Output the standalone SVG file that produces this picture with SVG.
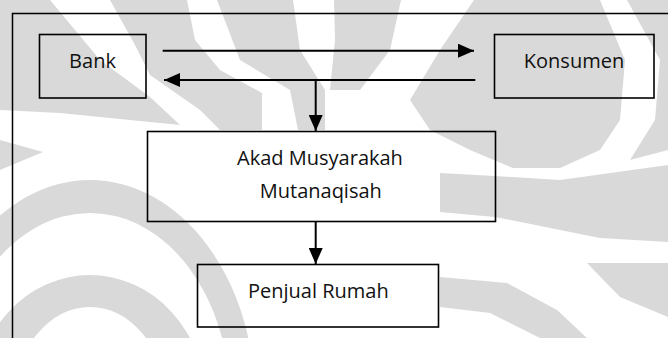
<svg xmlns="http://www.w3.org/2000/svg" width="668" height="338" viewBox="0 0 668 338">
<style>
.wm{fill:#d9d9d9;stroke:none}
.box{fill:none;stroke:#000;stroke-width:1.6}
.lbl{font-family:"Open Sans","Liberation Sans",sans-serif;font-size:20px;fill:#111;text-anchor:middle}
.con{stroke:#000;stroke-width:2;fill:none}
</style>
<defs>
<marker id="ah" markerUnits="userSpaceOnUse" markerWidth="16" markerHeight="14" refX="16" refY="7" orient="auto">
<path d="M0,0 L16,7 L0,14 z" fill="#000"/>
</marker>
</defs>
<rect width="668" height="338" fill="#fff"/>
<g id="watermark">
<polygon class="wm" points="0,0 50,0 100,60 150,97 180,125 130,120 60,113 0,110"/>
<polygon class="wm" points="0,140 43,152 0,170"/>
<polygon class="wm" points="110,0 187,0 195,40 220,70 262,93 262,130 220,130 200,110 150,75 135,45"/>
<polygon class="wm" points="217,0 293,0 300,50 325,90 325,130 298,130 290,90 240,60"/>
<polygon class="wm" points="334,0 401,0 390,50 360,90 330,90 335,40"/>
<polygon class="wm" points="474,0 600,0 625,60 620,120 600,150 560,168 513,168 470,150 430,130 410,100 440,50"/>
<polygon class="wm" points="627,0 668,0 668,150 630,160 655,120 660,60"/>
<polygon class="wm" points="440,173 495,176 560,180 668,165 668,242 600,238 495,217 440,212"/>
<polygon class="wm" points="587,263 668,263 668,317 620,297"/>
<polygon class="wm" points="440,277 507,283 557,310 587,338 540,338 490,313 440,307"/>
<path class="wm" fill-rule="evenodd" d="M-25,400 A115,125 0 0 1 205,400 A115,125 0 0 1 -25,400 Z M15,400 A75,93 0 0 0 165,400 A75,93 0 0 0 15,400 Z"/>
<path class="wm" fill-rule="evenodd" d="M-75,400 A165,220 0 0 1 255,400 A165,220 0 0 1 -75,400 Z M-50,400 A140,187 0 0 0 230,400 A140,187 0 0 0 -50,400 Z"/>
</g>
<path id="frame" d="M12.5,340 V13.5 H670" fill="none" stroke="#000" stroke-width="1.5"/>
<g id="bank"><rect class="box" x="39.5" y="34.5" width="106.5" height="63.5"/><text class="lbl" x="92.5" y="68.3">Bank</text></g>
<g id="konsumen"><rect class="box" x="494.5" y="34.5" width="159.5" height="63.5"/><text class="lbl" x="574" y="68.3">Konsumen</text></g>
<g id="akad"><rect class="box" x="147.5" y="131.5" width="348" height="90"/><text class="lbl" x="320" y="165">Akad Musyarakah</text><text class="lbl" x="320.8" y="198.3">Mutanaqisah</text></g>
<g id="penjual"><rect class="box" x="197.5" y="264.5" width="241" height="62.5"/><text class="lbl" x="318.3" y="298.3">Penjual Rumah</text></g>
<g id="connectors">
<line class="con" x1="162.7" y1="50.7" x2="474" y2="50.7" marker-end="url(#ah)"/>
<line class="con" x1="475.3" y1="80" x2="164" y2="80" marker-end="url(#ah)"/>
<line class="con" x1="315.7" y1="80" x2="315.7" y2="131" marker-end="url(#ah)"/>
<line class="con" x1="315.7" y1="222" x2="315.7" y2="264" marker-end="url(#ah)"/>
</g>
</svg>
